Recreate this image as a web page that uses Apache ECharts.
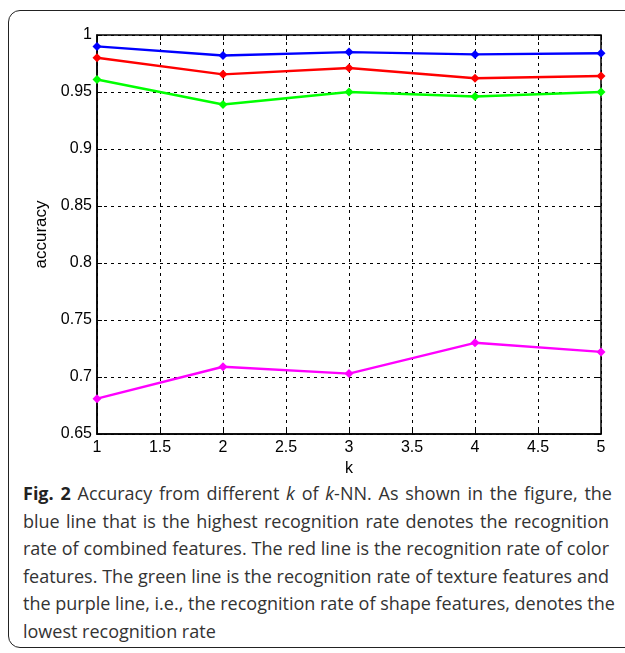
<!DOCTYPE html>
<html>
<head>
<meta charset="utf-8">
<script src="https://cdn.jsdelivr.net/npm/echarts@6/dist/echarts.min.js"></script>
<style>
    html, body { margin: 0; padding: 0; background: #fff; }
    .frame {
        position: absolute; left: 8px; top: 10px; width: 640px; height: 638px;
        border: 1.5px solid #222; border-radius: 12px; box-sizing: border-box;
    }
    .echart { position: absolute; left: 0; top: 0; width: 625px; height: 478px; }
    .caption {
        position: absolute; left: 23px; top: 480px;
        font-family: 'Open Sans', sans-serif; font-size: 18px; line-height: 27.6px;
        color: #333; white-space: nowrap;
    }
    .caption div { width: 586px; text-align: justify; text-align-last: justify; }
    .caption div.last { text-align-last: left; }
</style>
</head>
<body>
<div class="frame"></div>
<div id="echart" class="echart"></div>
<div class="caption">
<div style="width:589px"><b style="color:#222">Fig. 2</b> Accuracy from different <i>k</i> of <i>k</i>-NN. As shown in the figure, the</div>
<div>blue line that is the highest recognition rate denotes the recognition</div>
<div>rate of combined features. The red line is the recognition rate of color</div>
<div>features. The green line is the recognition rate of texture features and</div>
<div style="width:588px">the purple line, i.e., the recognition rate of shape features, denotes the</div>
<div class="last">lowest recognition rate</div>
</div>
<script>
// k 值
let kValues = [1, 2, 3, 4, 5];
let combinedAcc = [0.990, 0.982, 0.985, 0.983, 0.984]; // blue
let colorAcc = [0.980, 0.9655, 0.971, 0.962, 0.964]; // red
let textureAcc = [0.961, 0.939, 0.950, 0.946, 0.950]; // green
let shapeAcc = [0.681, 0.709, 0.703, 0.730, 0.722]; // magenta
let seriesColors = ['#0000ff', '#ff0000', '#00ff00', '#ff00ff'];

let echart = echarts.init(document.getElementById('echart'));

function toPairs(ys) {
    return kValues.map(function(k, i) {
        return [k, ys[i]];
    });
}

function fmt(v) {
    return String(parseFloat(v.toFixed(2)));
}

let labelFont = { fontFamily: 'Liberation Sans, Arial', fontSize: 16, color: '#000' };
let dashed = { show: true, lineStyle: { color: '#000', type: [3, 4], width: 1 } };

let seriesList = [combinedAcc, colorAcc, textureAcc, shapeAcc].map(function(ys, i) {
    return {
        type: 'line',
        data: toPairs(ys),
        symbol: 'diamond',
        symbolSize: 9,
        lineStyle: { width: 2.4, color: seriesColors[i] },
        itemStyle: { color: seriesColors[i] },
        animation: false,
        z: 10 - i
    };
});

let option = {
    grid: {
        left: 97, right: 24, top: 35, bottom: 44,
        show: true, borderColor: '#000', borderWidth: 1.5,
        outerBoundsMode: 'none', containLabel: false
    },
    xAxis: [
        {
            type: 'value', min: 1, max: 5, interval: 0.5,
            name: 'k', nameLocation: 'middle', nameGap: 24,
            nameTextStyle: { fontFamily: 'Liberation Sans, Arial', fontSize: 16, color: '#000' },
            axisLine: { lineStyle: { color: '#000', width: 1.5 } },
            axisTick: { inside: true, length: 5, lineStyle: { color: '#000' } },
            axisLabel: {
                margin: 6, formatter: fmt,
                fontFamily: labelFont.fontFamily, fontSize: labelFont.fontSize, color: labelFont.color
            },
            splitLine: dashed
        },
        {
            type: 'value', min: 1, max: 5, interval: 0.5, position: 'top',
            axisLine: { show: false },
            axisTick: { inside: true, length: 5, lineStyle: { color: '#000' } },
            axisLabel: { show: false }, splitLine: { show: false }
        }
    ],
    yAxis: [
        {
            type: 'value', min: 0.65, max: 1, interval: 0.05,
            name: 'accuracy', nameLocation: 'middle', nameGap: 46, nameRotate: 90,
            nameTextStyle: { fontFamily: 'Liberation Sans, Arial', fontSize: 17, color: '#000' },
            axisLine: { show: true, lineStyle: { color: '#000', width: 1.5 } },
            axisTick: { show: true, inside: true, length: 5, lineStyle: { color: '#000' } },
            axisLabel: {
                margin: 5, formatter: fmt,
                fontFamily: labelFont.fontFamily, fontSize: labelFont.fontSize, color: labelFont.color
            },
            splitLine: dashed
        },
        {
            type: 'value', min: 0.65, max: 1, interval: 0.05, position: 'right',
            axisLine: { show: false },
            axisTick: { show: true, inside: true, length: 5, lineStyle: { color: '#000' } },
            axisLabel: { show: false }, splitLine: { show: false }
        }
    ],
    series: seriesList
};

echart.setOption(option, true);
</script>
</body>
</html>
